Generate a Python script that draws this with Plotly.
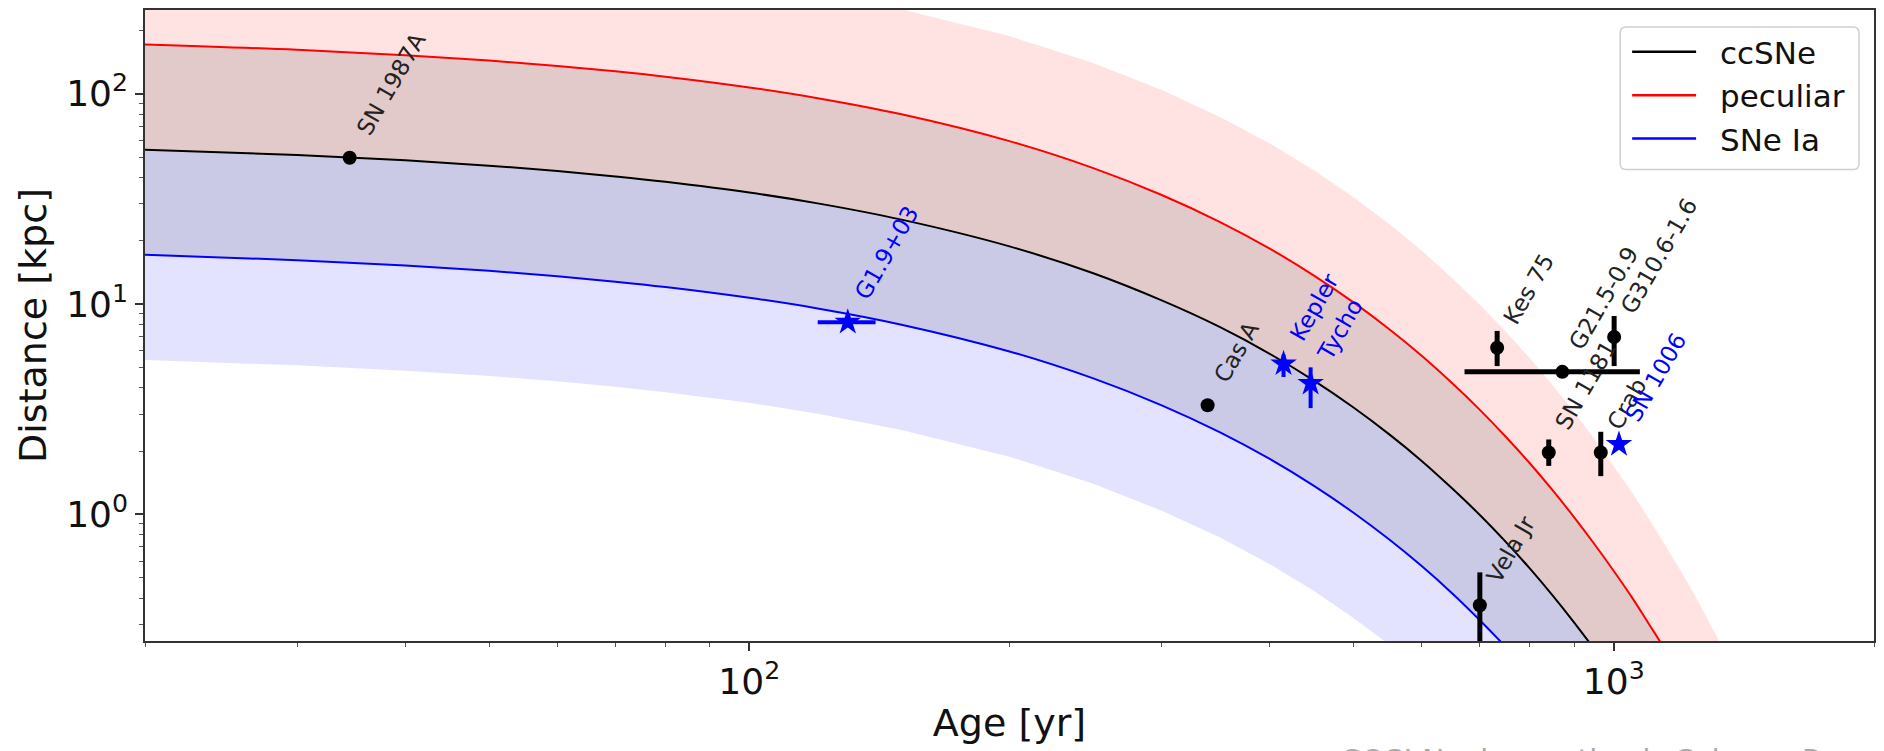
import math
import plotly.graph_objects as go

# ---------------- data ----------------
# model curves: age [yr] vs. distance [kpc]
curve_age = [20, 30, 40, 50, 60, 70, 80, 100, 120, 150, 200, 250, 300, 350, 400, 450, 500,
             550, 600, 650, 700, 750, 800, 850, 900, 950, 1000, 1050, 1100, 1150, 1200,
             1250, 1300, 1350, 1400]
ccsne_dist = [54.2, 51.1, 48.2, 45.5, 42.9, 40.4, 38.1, 33.9, 30.1, 25.2, 18.8, 14.0, 10.4,
              7.78, 5.80, 4.32, 3.22, 2.40, 1.79, 1.33, 0.993, 0.740, 0.552, 0.411, 0.306,
              0.228, 0.170, 0.127, 0.0944, 0.0704, 0.0525, 0.0391, 0.0291, 0.0217, 0.0162]
peculiar_dist = [171.5, 161.7, 152.4, 143.7, 135.5, 127.8, 120.5, 107.1, 95.2, 79.8, 59.5,
                 44.3, 33.0, 24.6, 18.34, 13.66, 10.18, 7.59, 5.66, 4.21, 3.14, 2.34, 1.745,
                 1.30, 0.968, 0.721, 0.538, 0.402, 0.298, 0.223, 0.166, 0.124, 0.092, 0.069,
                 0.051]
snia_dist = [17.15, 16.17, 15.25, 14.38, 13.55, 12.78, 12.05, 10.71, 9.53, 7.98, 5.95, 4.43,
             3.30, 2.46, 1.834, 1.366, 1.018, 0.759, 0.566, 0.422, 0.314, 0.234, 0.175, 0.130,
             0.097, 0.072, 0.054, 0.040, 0.030, 0.022, 0.017, 0.012, 0.0092, 0.0069, 0.0051]
# outer edges of the shaded bands
peculiar_band_top = [542, 511, 482, 455, 429, 404, 381, 339, 301, 252, 188, 140, 104, 77.8,
                     58.0, 43.2, 32.2, 24.0, 17.9, 13.3, 9.93, 7.40, 5.52, 4.11, 3.06, 2.28,
                     1.70, 1.27, 0.944, 0.704, 0.525, 0.391, 0.291, 0.217, 0.162]
snia_band_bottom = [5.42, 5.11, 4.82, 4.55, 4.29, 4.04, 3.81, 3.39, 3.01, 2.52, 1.88, 1.40,
                    1.04, 0.778, 0.580, 0.432, 0.322, 0.240, 0.179, 0.133, 0.099, 0.074,
                    0.055, 0.041, 0.031, 0.023, 0.017, 0.013, 0.0094, 0.0070, 0.0053,
                    0.0039, 0.0029, 0.0022, 0.0016]

# core-collapse remnants
cc_names = ["SN 1987A", "Cas A", "Kes 75", "G21.5-0.9", "G310.6-1.6", "SN 1181", "Crab", "Vela Jr"]
cc_age = [34.5, 339, 733, 872, 1001, 841, 966, 700]
cc_age_err = [0, 0, 0, 200, 0, 0, 0, 0]
cc_dist = [49.6, 3.3, 6.2, 4.76, 6.97, 1.97, 1.97, 0.37]
cc_dist_err_plus = [0, 0, 1.25, 0, 1.8, 0.3, 0.5, 0.16]
cc_dist_err_minus = [0, 0, 1.13, 0, 1.9, 0.27, 0.45, 0.2]

# type Ia remnants
ia_names = ["G1.9+03", "Kepler", "Tycho", "SN 1006"]
ia_age = [130, 415, 446, 1014]
ia_age_err = [10, 0, 0, 0]
ia_dist = [8.2, 5.2, 4.2, 2.15]
ia_dist_err_plus = [0, 0.55, 0.8, 0]
ia_dist_err_minus = [0, 0.7, 1.0, 0]

legend_names = ["ccSNe", "peculiar", "SNe Ia"]
legend_colors = ["black", "red", "blue"]

x_tickvals = [100, 1000]
x_ticktext = ["10<sup>2</sup>", "10<sup>3</sup>"]
y_tickvals = [1, 10, 100]
y_ticktext = ["10<sup>0</sup>", "10<sup>1</sup>", "10<sup>2</sup>"]
x_minor = [20, 30, 40, 50, 60, 70, 80, 90, 200, 300, 400, 500, 600, 700, 800, 900, 2000]
y_minor = [0.3, 0.4, 0.5, 0.6, 0.7, 0.8, 0.9, 2, 3, 4, 5, 6, 7, 8, 9, 20, 30, 40, 50, 60,
           70, 80, 90, 200]

FONT = "DejaVu Sans"
W, H = 1884, 751
ML, MR, MT, MB = 145, 9, 8, 110
PW, PH = W - ML - MR, H - MT - MB

def px(xp):  # page pixel -> paper x
    return (xp - ML) / PW

def py(yp):  # page pixel -> paper y
    return (H - MB - yp) / PH

fig = go.Figure()

def band(lower, upper, color):
    fig.add_trace(go.Scatter(
        x=curve_age + curve_age[::-1], y=upper + lower[::-1],
        fill="toself", fillcolor=color, line=dict(width=0), mode="lines",
        hoverinfo="skip", showlegend=False))

band(ccsne_dist, peculiar_band_top, "rgba(255,0,0,0.11)")
band(snia_dist, peculiar_dist, "rgba(0,0,0,0.11)")
band(snia_band_bottom, ccsne_dist, "rgba(0,0,255,0.11)")

for name, ys, col in zip(legend_names, [ccsne_dist, peculiar_dist, snia_dist], legend_colors):
    fig.add_trace(go.Scatter(x=curve_age, y=ys, mode="lines", name=name, showlegend=False,
                             line=dict(color=col, width=2, shape="spline")))

fig.add_trace(go.Scatter(
    x=cc_age, y=cc_dist, mode="markers", showlegend=False,
    marker=dict(symbol="circle", size=14, color="black"),
    error_y=dict(type="data", array=cc_dist_err_plus, arrayminus=cc_dist_err_minus,
                 color="black", thickness=5, width=0),
    error_x=dict(type="data", array=cc_age_err, color="black", thickness=5, width=0)))

fig.add_trace(go.Scatter(
    x=ia_age, y=ia_dist, mode="markers", showlegend=False,
    marker=dict(symbol="star", size=20, color="blue", line=dict(width=0)),
    error_y=dict(type="data", array=ia_dist_err_plus, arrayminus=ia_dist_err_minus,
                 color="blue", thickness=4, width=0),
    error_x=dict(type="data", array=ia_age_err, color="blue", thickness=4, width=0)))

# labels (annotations on log axes take log10 positions)
for names, ages, dists, col in [(cc_names, cc_age, cc_dist, "#222222"),
                                (ia_names, ia_age, ia_dist, "blue")]:
    for n, a, d in zip(names, ages, dists):
        fig.add_annotation(x=math.log10(a), y=math.log10(d), xref="x", yref="y", text=n,
                           showarrow=False, textangle=-60, xanchor="left", yanchor="bottom",
                           xshift=0, yshift=17, borderpad=0,
                           font=dict(family=FONT, size=23, color=col))

# legend box (rounded), drawn in paper coordinates
bx0, bx1, by0, by1, r = 1621, 1860, 25, 168, 6
rx, ry = r / PW, r / PH
X0, X1, Y0, Y1 = px(bx0), px(bx1), py(by1), py(by0)
path = (f"M{X0+rx},{Y0} L{X1-rx},{Y0} Q{X1},{Y0} {X1},{Y0+ry} L{X1},{Y1-ry} "
        f"Q{X1},{Y1} {X1-rx},{Y1} L{X0+rx},{Y1} Q{X0},{Y1} {X0},{Y1-ry} "
        f"L{X0},{Y0+ry} Q{X0},{Y0} {X0+rx},{Y0} Z")
fig.add_shape(type="path", path=path, xref="paper", yref="paper",
              fillcolor="rgba(255,255,255,0.85)", line=dict(color="#d0d0d0", width=1.5))
for i, (name, col) in enumerate(zip(legend_names, legend_colors)):
    yrow = 50 + i * 43.5
    fig.add_shape(type="line", xref="paper", yref="paper", x0=px(1633), x1=px(1697),
                  y0=py(yrow), y1=py(yrow), line=dict(color=col, width=2.5))
    fig.add_annotation(x=px(1719), y=py(yrow + 1), xref="paper", yref="paper", text=name,
                       showarrow=False, xanchor="left", yanchor="middle",
                       font=dict(family=FONT, size=31, color="#111111"))

fig.add_annotation(x=0.69, y=-0.158, xref="paper", yref="paper",
                   text="COSI Nucleosynthesis Science Report",
                   showarrow=False, xanchor="left", yanchor="top",
                   font=dict(family=FONT, size=30, color="#aaaaaa"))

axis_common = dict(type="log", showgrid=False, zeroline=False, showline=True, linecolor="#333333",
                   linewidth=1.5, mirror=True, ticks="outside", ticklen=8, tickwidth=1.5,
                   tickcolor="#333333", tickfont=dict(family=FONT, size=36, color="#111111"))

fig.update_layout(
    width=W, height=H,
    margin=dict(l=ML, r=MR, t=MT, b=MB),
    paper_bgcolor="white", plot_bgcolor="white",
    font=dict(family=FONT, color="#111111"),
    showlegend=False,
    xaxis=dict(range=[1.30103, 3.30103], tickmode="array", tickvals=x_tickvals, ticktext=x_ticktext,
               minor=dict(tickmode="array", tickvals=x_minor, ticks="outside", ticklen=4,
                          tickwidth=1, tickcolor="#555555"),
               title=dict(text="Age [yr]", font=dict(family=FONT, size=38, color="#111111"), standoff=8),
               **axis_common),
    yaxis=dict(range=[-0.60206, 2.39794], tickmode="array", tickvals=y_tickvals, ticktext=y_ticktext,
               minor=dict(tickmode="array", tickvals=y_minor, ticks="outside", ticklen=4,
                          tickwidth=1, tickcolor="#555555"),
               title=dict(text="Distance [kpc]", font=dict(family=FONT, size=38, color="#111111"), standoff=8),
               **axis_common),
)

fig.write_html("out.html")
